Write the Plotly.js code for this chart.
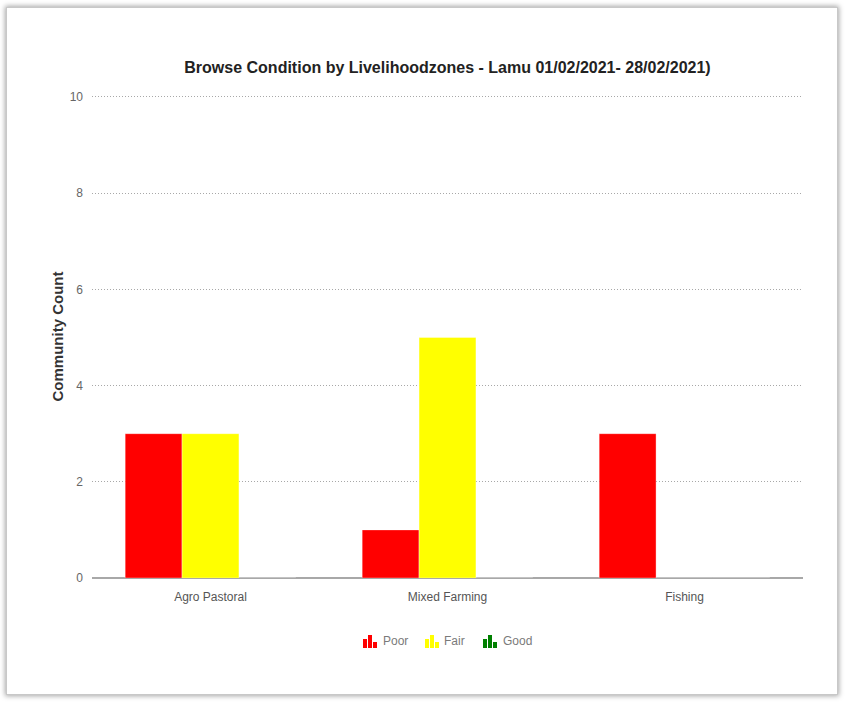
<!DOCTYPE html>
<html>
<head>
<meta charset="utf-8">
<script src="https://cdn.plot.ly/plotly-3.0.1.min.js"></script>
<style>
  html, body { margin: 0; padding: 0; background: #ffffff; }
  #frame {
    position: absolute; left: 6px; top: 7px;
    width: 830px; height: 686px;
    border: 1px solid #c8c8c8;
    box-shadow: 0 0 5px 1px rgba(0,0,0,0.35);
    background: #ffffff;
  }
  #chart { width: 830px; height: 686px; }
</style>
</head>
<body>
<div id="frame"><div id="chart"></div></div>
<script>
// Livelihood zones and browse condition counts
const zones = ["Agro Pastoral", "Mixed Farming", "Fishing"];
const poor = [3, 1, 3];
const fair = [3, 5, 0];
const good = [0, 0, 0];
const conditionNames = ["Poor", "Fair", "Good"];
const conditionColors = ["#ff0000", "#ffff00", "#008000"];
const yTicks = [0, 2, 4, 6, 8, 10];

const font = "'Liberation Sans', Arial, Helvetica, sans-serif";

// Plot area geometry (pixels inside the chart div)
const W = 830, H = 686;
const M = { l: 85, r: 34, t: 87, b: 116 };
const plotW = W - M.l - M.r, plotH = H - M.t - M.b;
const px2paperX = px => (px - M.l) / plotW;
const px2paperY = py => (H - M.b - py) / plotH;

const series = [poor, fair, good];
const traces = series.map((vals, i) => ({
  type: "bar",
  name: conditionNames[i],
  x: zones,
  y: vals,
  marker: {
    color: conditionColors[i],
    line: { color: "rgba(255,255,255,0.35)", width: 1 }
  },
  showlegend: false
}));

// Custom legend: small three-bar icon followed by the series name
const legendShapes = [];
const legendNotes = [];
const legendIconX = [356, 418, 476];   // icon left edge (px)
const legendTextX = [374, 435, 494];   // label left edge (px)
const legendBase = 640;                // icon baseline (px)
const iconBars = [[0, 9], [5, 13], [10, 6]]; // [offset, height] of each mini bar
conditionNames.forEach((name, i) => {
  iconBars.forEach(([dx, h]) => {
    legendShapes.push({
      type: "rect", xref: "paper", yref: "paper", layer: "above",
      x0: px2paperX(legendIconX[i] + dx), x1: px2paperX(legendIconX[i] + dx + 4),
      y0: px2paperY(legendBase), y1: px2paperY(legendBase - h),
      fillcolor: conditionColors[i], line: { width: 0 }
    });
  });
  legendNotes.push({
    text: name, xref: "paper", yref: "paper", showarrow: false,
    x: px2paperX(legendTextX[i]), xanchor: "left",
    y: px2paperY(legendBase - 7), yanchor: "middle",
    font: { family: font, size: 12, color: "#7a7a7a" }
  });
});

const layout = {
  width: W,
  height: H,
  margin: M,
  paper_bgcolor: "#ffffff",
  plot_bgcolor: "#ffffff",
  barmode: "group",
  bargap: 0.28,
  bargroupgap: 0,
  showlegend: false,
  title: {
    text: "<b>Browse Condition by Livelihoodzones - Lamu 01/02/2021- 28/02/2021)</b>",
    font: { family: font, size: 16, color: "#222222" },
    xref: "paper", x: 0.5, xanchor: "center",
    yref: "container", y: 1 - 59 / H, yanchor: "middle"
  },
  xaxis: {
    type: "category",
    showgrid: false,
    showline: false,
    zeroline: false,
    ticks: "",
    ticklabelstandoff: 10,
    tickfont: { family: font, size: 12, color: "#555555" },
    fixedrange: true
  },
  yaxis: {
    range: [0, 10.04],
    tickvals: yTicks,
    ticktext: yTicks.map(String),
    ticks: "",
    ticklabelstandoff: 8,
    tickfont: { family: font, size: 12, color: "#666666" },
    showgrid: true,
    gridcolor: "#a8a8a8",
    griddash: "1px,2px",
    gridwidth: 1,
    zeroline: true,
    zerolinecolor: "#a8a8a8",
    zerolinewidth: 2,
    showline: false,
    title: {
      text: "<b>Community Count</b>",
      font: { family: font, size: 15, color: "#333333" },
      standoff: 2
    },
    fixedrange: true
  },
  shapes: legendShapes,
  annotations: legendNotes
};

Plotly.newPlot("chart", traces, layout, { displayModeBar: false, staticPlot: true });
</script>
</body>
</html>
